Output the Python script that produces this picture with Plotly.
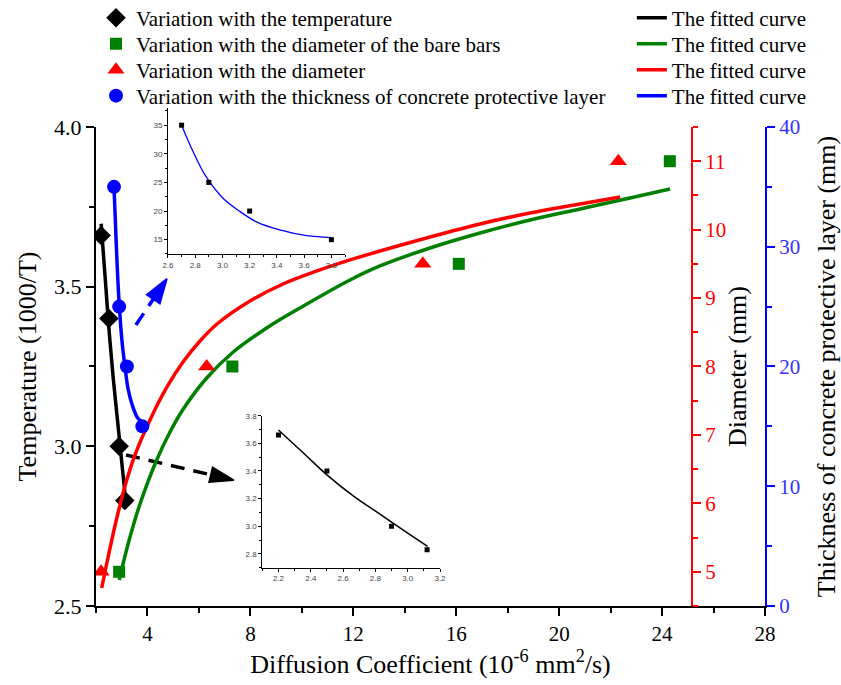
import plotly.graph_objects as go

# ---------------- data ----------------
temp_D = [2.2, 2.5, 2.9, 3.12]
temp_T = [3.66, 3.40, 3.00, 2.83]
temp_fit_D = [2.2, 2.356, 2.50, 2.667, 2.833, 3.0, 3.123]
temp_fit_T = [3.697, 3.528, 3.372, 3.216, 3.084, 2.951, 2.855]

bare_D = [2.9, 7.3, 16.1, 24.3]
bare_d = [5, 8, 9.5, 11]
bare_fit_D = [2.906, 3.088, 3.321, 3.710, 4.359, 4.876, 5.393, 6.302, 7.336, 8.634, 9.928, 11.872, 13.038, 14.981, 16.924, 18.868, 20.811, 22.754, 24.309]
bare_fit_d = [4.880, 5.172, 5.509, 5.991, 6.634, 7.043, 7.379, 7.832, 8.212, 8.563, 8.855, 9.264, 9.469, 9.732, 9.951, 10.141, 10.302, 10.463, 10.594]

dia_D = [2.2, 6.3, 14.7, 22.3]
dia_d = [5, 8, 9.5, 11]
dia_fit_D = [2.222, 2.389, 2.622, 2.855, 3.127, 3.516, 4.099, 4.759, 5.381, 6.042, 6.703, 7.985, 9.268, 10.589, 11.872, 13.038, 14.981, 16.924, 18.868, 20.811, 22.366]
dia_fit_d = [4.763, 5.070, 5.479, 5.859, 6.254, 6.707, 7.219, 7.701, 8.066, 8.373, 8.621, 8.957, 9.206, 9.396, 9.557, 9.688, 9.893, 10.083, 10.243, 10.375, 10.477]

thick_D = [2.7, 2.9, 3.2, 3.8]
thick_c = [35, 25, 20, 15]
thick_fit_D = [2.70, 2.785, 2.88, 3.006, 3.13, 3.25, 3.42, 3.62, 3.80]
thick_fit_c = [35.0, 30.35, 26.0, 22.2, 19.9, 18.1, 16.7, 15.7, 15.35]

x_ticks = [4, 8, 12, 16, 20, 24, 28]
legend_names = ["Variation with the temperature",
                "Variation with the diameter of the bare bars",
                "Variation with the diameter",
                "Variation with the thickness of concrete protective layer"]
fit_name = "The fitted curve"

SERIF = "Liberation Serif"
BLACK, GREEN, RED, BLUE = "#000000", "#008000", "#ff0000", "#0000ff"

# legend row positions (paper y) for the four rows
row_y = [1.1737, 1.1218, 1.0699, 1.018]

fig = go.Figure()

# fitted curves (right legend column)
fit_series = [
    (temp_fit_D, temp_fit_T, BLACK, "y"),
    (bare_fit_D, bare_fit_d, GREEN, "y2"),
    (dia_fit_D, dia_fit_d, RED, "y2"),
    (thick_fit_D, thick_fit_c, BLUE, "y3"),
]
for i, (xs, ys, col, ya) in enumerate(fit_series):
    fig.add_trace(go.Scatter(x=xs, y=ys, mode="lines", name=fit_name,
                             line=dict(color=col, width=3.5, shape="spline", smoothing=1.0),
                             legend="legend%d" % (i + 5), xaxis="x", yaxis=ya))

# data markers (left legend column)
mark_series = [
    (temp_D, temp_T, BLACK, "diamond", 15, "y"),
    (bare_D, bare_d, GREEN, "square", 12, "y2"),
    (dia_D, dia_d, RED, "triangle-up", 15, "y2"),
    (thick_D, thick_c, BLUE, "circle", 14, "y3"),
]
for i, (xs, ys, col, sym, sz, ya) in enumerate(mark_series):
    fig.add_trace(go.Scatter(x=xs, y=ys, mode="markers", name=legend_names[i],
                             marker=dict(symbol=sym, size=sz, color=col),
                             legend=("legend" if i == 0 else "legend%d" % (i + 1)),
                             xaxis="x", yaxis=ya))

# dashed arrows pointing to insets
fig.add_trace(go.Scatter(x=[3.55, 4.76], y=[3.38, 3.525], mode="lines+markers",
                         line=dict(color=BLUE, width=3.5, dash="14px,9px"),
                         marker=dict(symbol="arrow", size=[0, 26], color=BLUE, opacity=1,
                                     line=dict(color=BLUE, width=1.5), angleref="previous"),
                         showlegend=False, hoverinfo="skip", xaxis="x", yaxis="y"))
fig.add_trace(go.Scatter(x=[3.17, 7.36], y=[2.973, 2.894], mode="lines+markers",
                         line=dict(color=BLACK, width=3.5, dash="14px,9px"),
                         marker=dict(symbol="arrow", size=[0, 25], color=BLACK, opacity=1,
                                     line=dict(color=BLACK, width=1.5), angleref="previous"),
                         showlegend=False, hoverinfo="skip", xaxis="x", yaxis="y"))

# inset 1: thickness
fig.add_trace(go.Scatter(x=thick_fit_D, y=thick_fit_c, mode="lines",
                         line=dict(color=BLUE, width=1.3, shape="spline"),
                         showlegend=False, xaxis="x2", yaxis="y4"))
fig.add_trace(go.Scatter(x=thick_D, y=thick_c, mode="markers",
                         marker=dict(symbol="square", size=5, color=BLACK),
                         showlegend=False, xaxis="x2", yaxis="y4"))
# inset 2: temperature
fig.add_trace(go.Scatter(x=temp_fit_D, y=temp_fit_T, mode="lines",
                         line=dict(color=BLACK, width=1.5, shape="spline"),
                         showlegend=False, xaxis="x3", yaxis="y5"))
fig.add_trace(go.Scatter(x=temp_D, y=temp_T, mode="markers",
                         marker=dict(symbol="square", size=5, color=BLACK),
                         showlegend=False, xaxis="x3", yaxis="y5"))

main_dom = [0, 0.9561]
inset_ax = dict(showgrid=False, zeroline=False, showline=True, linecolor="#000", linewidth=1,
                ticks="outside", ticklen=3, tickwidth=1, tickcolor="#000",
                tickfont=dict(family="Liberation Sans", size=8, color="#444"))

legend_common = dict(xanchor="left", yanchor="middle", bgcolor="rgba(0,0,0,0)",
                     font=dict(family=SERIF, size=21), itemwidth=30)
legends = {}
for i in range(4):
    key = "legend" if i == 0 else "legend%d" % (i + 1)
    legends[key] = dict(legend_common, x=0.0, y=row_y[i])
    legends["legend%d" % (i + 5)] = dict(legend_common, x=0.801, y=row_y[i])

fig.update_layout(
    width=841, height=685,
    margin=dict(l=96, r=76, t=105, b=79, autoexpand=False),
    paper_bgcolor="white", plot_bgcolor="white",
    font=dict(family=SERIF, color="black"),
    xaxis=dict(range=[2, 28], domain=[0, 1], anchor="y", tickvals=x_ticks,
               showgrid=False, zeroline=False, showline=True, linecolor=BLACK, linewidth=2,
               ticks="outside", ticklen=8, tickwidth=2, tickcolor=BLACK,
               minor=dict(dtick=2, tick0=0, ticks="outside", ticklen=5, tickwidth=2, tickcolor=BLACK),
               tickfont=dict(size=21),
               title=dict(text="Diffusion Coefficient (10<sup>-6</sup> mm<sup>2</sup>/s)", font=dict(size=26), standoff=8)),
    yaxis=dict(range=[2.5, 4.0], domain=main_dom, anchor="x", dtick=0.5, tick0=2.5, tickformat=".1f",
               showgrid=False, zeroline=False, showline=True, linecolor=BLACK, linewidth=2,
               ticks="outside", ticklen=8, tickwidth=2, tickcolor=BLACK,
               minor=dict(dtick=0.25, tick0=2.5, ticks="outside", ticklen=5, tickwidth=2, tickcolor=BLACK),
               tickfont=dict(size=22),
               title=dict(text="Temperature (1000/T)", font=dict(size=26), standoff=10)),
    yaxis2=dict(range=[4.5, 11.5], domain=main_dom, overlaying="y", anchor="free", position=0.8909, side="right",
                tickvals=[5, 6, 7, 8, 9, 10, 11],
                showgrid=False, zeroline=False, showline=True, linecolor=RED, linewidth=2,
                ticks="outside", ticklen=8, tickwidth=2, tickcolor=RED,
                minor=dict(dtick=0.5, tick0=4.5, ticks="outside", ticklen=5, tickwidth=2, tickcolor=RED),
                tickfont=dict(size=21, color=RED),
                title=dict(text="Diameter (mm)", font=dict(size=26, color=BLACK), standoff=2)),
    yaxis3=dict(range=[0, 40], domain=main_dom, overlaying="y", anchor="x", side="right",
                dtick=10, tick0=0,
                showgrid=False, zeroline=False, showline=True, linecolor=BLUE, linewidth=2,
                ticks="outside", ticklen=8, tickwidth=2, tickcolor=BLUE,
                minor=dict(dtick=5, tick0=0, ticks="outside", ticklen=5, tickwidth=2, tickcolor=BLUE),
                tickfont=dict(size=21, color="#3333ff"),
                title=dict(text="Thickness of concrete protective layer (mm)", font=dict(size=26, color=BLACK), standoff=18)),
    xaxis2=dict(inset_ax, range=[2.6, 3.9], domain=[0.1076, 0.3722], anchor="y4", dtick=0.2, tick0=2.6,
                tickformat=".1f", minor=dict(dtick=0.1, ticks="outside", ticklen=2, tickcolor="#000")),
    yaxis4=dict(inset_ax, range=[12.5, 38], domain=[0.7026, 0.994], anchor="x2", dtick=5, tick0=15,
                minor=dict(dtick=2.5, tick0=12.5, ticks="outside", ticklen=2, tickcolor="#000")),
    xaxis3=dict(inset_ax, range=[2.1, 3.2], domain=[0.2486, 0.5142], anchor="y5", dtick=0.2, tick0=2.2,
                tickformat=".1f", minor=dict(dtick=0.1, tick0=2.1, ticks="outside", ticklen=2, tickcolor="#000")),
    yaxis5=dict(inset_ax, range=[2.7, 3.8], domain=[0.0764, 0.3798], anchor="x3", dtick=0.2, tick0=2.8,
                tickformat=".1f", minor=dict(dtick=0.1, tick0=2.7, ticks="outside", ticklen=2, tickcolor="#000")),
    **legends,
)

fig.write_html("out.html", config={"displayModeBar": False},
               post_script="document.body.style.margin='0';document.body.style.overflow='hidden';")
